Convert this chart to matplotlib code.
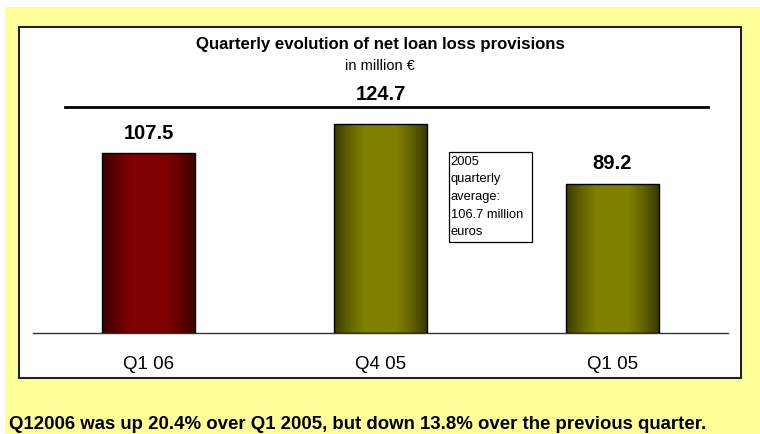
import numpy as np
import matplotlib
matplotlib.use("Agg")
import matplotlib.pyplot as plt
from matplotlib.patches import Rectangle

plt.rcParams['font.family'] = ['Liberation Sans', 'DejaVu Sans']

# data
quarters = ["Q1 06", "Q4 05", "Q1 05"]
provisions = [107.5, 124.7, 89.2]
bar_colors = [(0.5, 0.0, 0.0), (0.5, 0.5, 0.0), (0.5, 0.5, 0.0)]
top_line = 135.0
avg_note = "2005\nquarterly\naverage:\n106.7 million\neuros"
title = "Quarterly evolution of net loan loss provisions"
subtitle = "in million €"
footnote = "Q12006 was up 20.4% over Q1 2005, but down 13.8% over the previous quarter."

fig = plt.figure(figsize=(7.6, 4.35), dpi=100)
fig.patch.set_facecolor("white")

# yellow slide background and white chart frame
fig.patches.append(Rectangle((5/760, 0), 755/760, 427/435, transform=fig.transFigure,
                             facecolor="#FFFF99", edgecolor="none", zorder=-2))
fig.patches.append(Rectangle((19/760, 56/435), 722/760, 351/435, transform=fig.transFigure,
                             facecolor="white", edgecolor="#222222", lw=1.5, zorder=-1))

ax = fig.add_axes([33/760, 101/435, 695/760, 294/435])
ax.patch.set_alpha(0)

x = np.arange(len(quarters))
bars = ax.bar(x, provisions, width=0.4, color="none", edgecolor="black", lw=1.0, zorder=3)

# cylinder style shading
t = np.linspace(0, 1, 200)
shade = 0.45 + 0.55 * np.clip(np.sin(np.pi * t) * 1.15, 0, 1)
for b, col in zip(bars, bar_colors):
    img = np.ones((1, len(t), 3))
    for k in range(3):
        img[0, :, k] = col[k] * shade
    x0 = b.get_x()
    im = ax.imshow(img, extent=[x0, x0 + b.get_width(), 0, b.get_height()],
                   aspect="auto", zorder=2, interpolation="bilinear")
    im.set_clip_path(b)
ax.set_ylim(0, 294/1.673)
ax.set_xlim(-0.5, 2.5)

# decorative line above bars
ax.plot([-0.363, 2.415], [top_line, top_line], color="black", lw=2, zorder=3)

for xi, v in zip(x, provisions):
    ly = v + 12.5 if v + 12.5 < top_line else top_line + 8.3
    ax.text(xi, ly, f"{v:.1f}", ha="center", va="center", fontsize=14.5, fontweight="bold")

# note box next to the Q4 05 bar
ax.add_patch(Rectangle((1.296, 54.4), 0.358, 53.8, facecolor="white", edgecolor="black",
                       lw=0.9, zorder=4))
ax.text(1.303, 106.5, avg_note, ha="left", va="top", fontsize=9.3, linespacing=1.62,
        zorder=5)

ax.set_xticks(x)
ax.set_xticklabels(quarters, fontsize=13.5)
ax.tick_params(axis="x", length=0, pad=16)
ax.set_yticks([])
for s in ["top", "left", "right"]:
    ax.spines[s].set_visible(False)
ax.spines["bottom"].set_color("#333333")
ax.spines["bottom"].set_linewidth(1)

fig.text(380/760, 1 - 44/435, title, ha="center", va="center", fontsize=12.1, fontweight="bold")
fig.text(380/760, 1 - 66/435, subtitle, ha="center", va="center", fontsize=10.5)
fig.text(9/760, 1 - 425/435, footnote, ha="left", va="center", fontsize=13.4, fontweight="bold")

fig.savefig("out.png", dpi=100)
